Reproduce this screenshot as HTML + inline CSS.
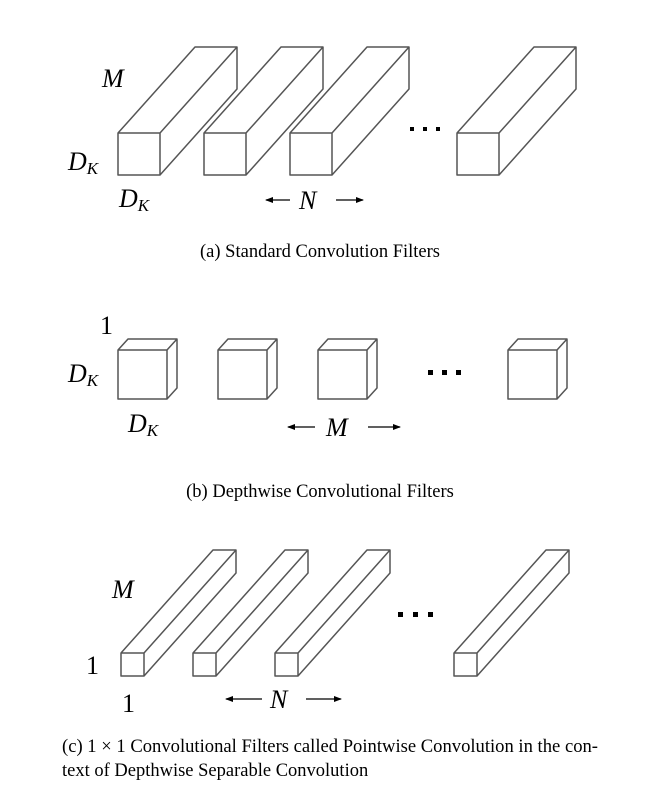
<!DOCTYPE html>
<html><head><meta charset="utf-8"><style>
html,body{margin:0;padding:0;background:#fff;width:645px;height:788px;overflow:hidden}
svg{display:block}
.b{fill:none;stroke:#555;stroke-width:1.5;stroke-linejoin:round}
.m{font-family:"Liberation Serif",serif;font-style:italic;fill:#000}
.r{font-family:"Liberation Serif",serif;fill:#000}
</style></head><body>
<svg width="645" height="788" viewBox="0 0 645 788" xmlns="http://www.w3.org/2000/svg">
<defs><marker id="ah" markerWidth="8" markerHeight="6" refX="7" refY="3" orient="auto" markerUnits="userSpaceOnUse"><path d="M0,0 L8,3 L0,6 z" fill="#000"/></marker></defs>
<!-- (a) -->
<g class="b">
<path d="M118,133 h42 v42 h-42 z M118,133 l77,-86 h42 l-77,86 M237,47 v42 l-77,86"/>
<path d="M204,133 h42 v42 h-42 z M204,133 l77,-86 h42 l-77,86 M323,47 v42 l-77,86"/>
<path d="M290,133 h42 v42 h-42 z M290,133 l77,-86 h42 l-77,86 M409,47 v42 l-77,86"/>
<path d="M457,133 h42 v42 h-42 z M457,133 l77,-86 h42 l-77,86 M576,47 v42 l-77,86"/>
</g>
<rect x="410" y="127" width="4" height="4"/><rect x="423" y="127" width="4" height="4"/><rect x="436" y="127" width="4" height="4"/>
<text class="m" x="102" y="87" font-size="26">M</text>
<text class="m" x="68" y="170" font-size="26">D<tspan font-size="17" dy="4">K</tspan></text>
<text class="m" x="119" y="207" font-size="26">D<tspan font-size="17" dy="4">K</tspan></text>
<line x1="290" y1="200" x2="266" y2="200" stroke="#000" stroke-width="1.3" marker-end="url(#ah)"/>
<text class="m" x="299" y="209" font-size="26">N</text>
<line x1="336" y1="200" x2="363" y2="200" stroke="#000" stroke-width="1.3" marker-end="url(#ah)"/>
<text class="r" x="320" y="257" font-size="18.5" text-anchor="middle">(a)  Standard Convolution Filters</text>
<!-- (b) -->
<g class="b">
<path d="M118,350 h49 v49 h-49 z M118,350 l10,-11 h49 l-10,11 M177,339 v49 l-10,11"/>
<path d="M218,350 h49 v49 h-49 z M218,350 l10,-11 h49 l-10,11 M277,339 v49 l-10,11"/>
<path d="M318,350 h49 v49 h-49 z M318,350 l10,-11 h49 l-10,11 M377,339 v49 l-10,11"/>
<path d="M508,350 h49 v49 h-49 z M508,350 l10,-11 h49 l-10,11 M567,339 v49 l-10,11"/>
</g>
<rect x="428" y="370" width="5" height="5"/><rect x="442" y="370" width="5" height="5"/><rect x="456" y="370" width="5" height="5"/>
<text class="r" x="100" y="334" font-size="26">1</text>
<text class="m" x="68" y="382" font-size="26">D<tspan font-size="17" dy="4">K</tspan></text>
<text class="m" x="128" y="432" font-size="26">D<tspan font-size="17" dy="4">K</tspan></text>
<line x1="315" y1="427" x2="288" y2="427" stroke="#000" stroke-width="1.3" marker-end="url(#ah)"/>
<text class="m" x="326" y="436" font-size="26">M</text>
<line x1="368" y1="427" x2="400" y2="427" stroke="#000" stroke-width="1.3" marker-end="url(#ah)"/>
<text class="r" x="320" y="497" font-size="18.5" text-anchor="middle">(b)  Depthwise Convolutional Filters</text>
<!-- (c) -->
<g class="b">
<path d="M121,653 h23 v23 h-23 z M121,653 l92,-103 h23 l-92,103 M236,550 v23 l-92,103"/>
<path d="M193,653 h23 v23 h-23 z M193,653 l92,-103 h23 l-92,103 M308,550 v23 l-92,103"/>
<path d="M275,653 h23 v23 h-23 z M275,653 l92,-103 h23 l-92,103 M390,550 v23 l-92,103"/>
<path d="M454,653 h23 v23 h-23 z M454,653 l92,-103 h23 l-92,103 M569,550 v23 l-92,103"/>
</g>
<rect x="398" y="612" width="5" height="5"/><rect x="413" y="612" width="5" height="5"/><rect x="428" y="612" width="5" height="5"/>
<text class="m" x="112" y="598" font-size="26">M</text>
<text class="r" x="86" y="674" font-size="26">1</text>
<text class="r" x="122" y="712" font-size="26">1</text>
<line x1="262" y1="699" x2="226" y2="699" stroke="#000" stroke-width="1.3" marker-end="url(#ah)"/>
<text class="m" x="270" y="708" font-size="26">N</text>
<line x1="306" y1="699" x2="341" y2="699" stroke="#000" stroke-width="1.3" marker-end="url(#ah)"/>
<text class="r" x="62" y="752" font-size="18.5" textLength="536" lengthAdjust="spacingAndGlyphs">(c)  1 × 1 Convolutional Filters called Pointwise Convolution in the con-</text>
<text class="r" x="62" y="776" font-size="18.5">text of Depthwise Separable Convolution</text>
</svg>
</body></html>
